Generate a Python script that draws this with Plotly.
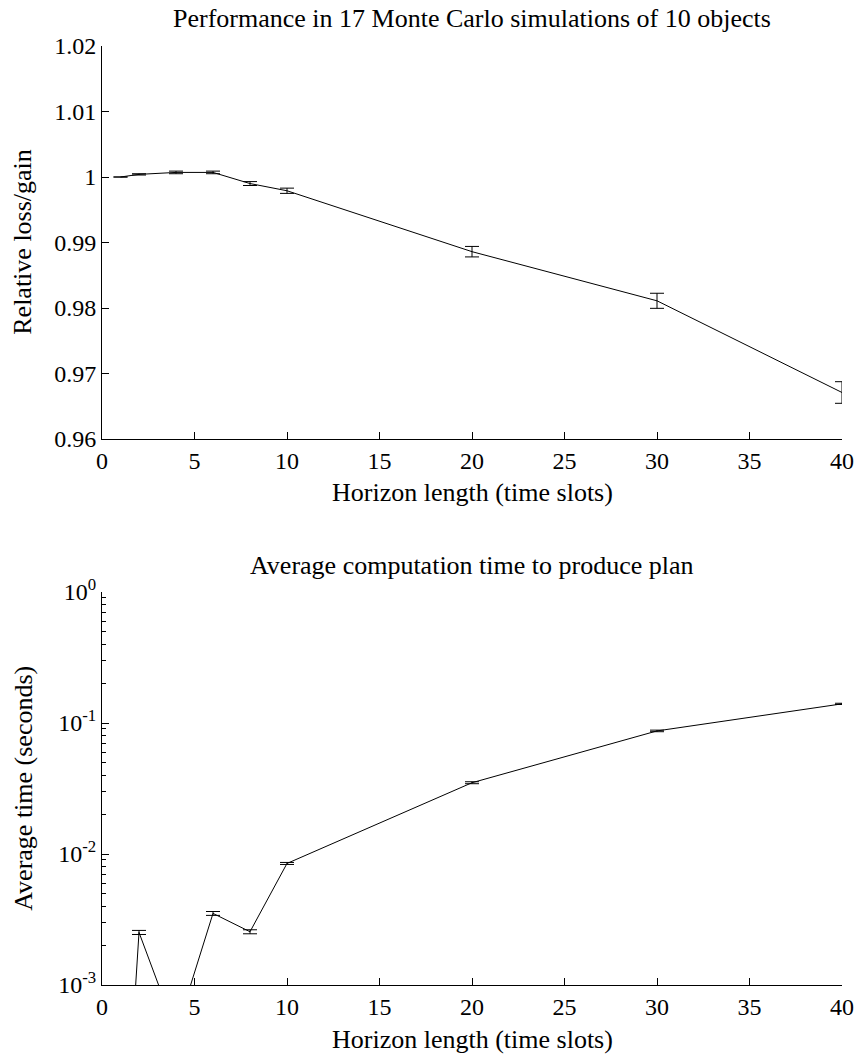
import plotly.graph_objects as go

# Horizon lengths (time slots)
horizon = [1, 2, 4, 6, 8, 10, 20, 30, 40]

# Relative loss/gain and its error bars
rel_gain = [1.0000, 1.0004, 1.0007, 1.0007, 0.9990, 0.9979, 0.9886, 0.9811, 0.9671]
rel_gain_err = [0.0, 0.0001, 0.0002, 0.0002, 0.0003, 0.0004, 0.0008, 0.00115, 0.00165]

# Average computation time (seconds) and its error bars
avg_time = [1.5e-5, 2.52e-3, 4.4e-4, 3.52e-3, 2.55e-3, 8.47e-3, 0.035, 0.087, 0.14]
avg_time_err = [0.0, 0.9e-4, 0.2e-4, 1.2e-4, 0.9e-4, 1.5e-4, 0.6e-3, 1.2e-3, 1.5e-3]

x_ticks = [0, 5, 10, 15, 20, 25, 30, 35, 40]
top_ticks = [0.96, 0.97, 0.98, 0.99, 1.00, 1.01, 1.02]
top_ticktext = ["0.96", "0.97", "0.98", "0.99", "1", "1.01", "1.02"]
log_ticks = [1e-3, 1e-2, 1e-1, 1e0]
log_ticktext = ["10<sup>-3</sup>", "10<sup>-2</sup>", "10<sup>-1</sup>", "10<sup>0</sup>"]

titles = ["Performance in 17 Monte Carlo simulations of 10 objects",
          "Average computation time to produce plan"]
x_label = "Horizon length (time slots)"
y_labels = ["Relative loss/gain", "Average time (seconds)"]

FONT = "Liberation Serif"
TICK_FS = 24
LABEL_FS = 26
W, H = 866, 1055
L, R, T, B = 102, 17, 46, 70
plot_h = H - T - B
panel_h = 393

top_dom = [1 - panel_h / plot_h, 1]
bot_dom = [0, panel_h / plot_h]

fig = go.Figure()

fig.add_trace(go.Scatter(
    x=horizon, y=rel_gain, mode="lines",
    line=dict(color="black", width=1),
    error_y=dict(type="data", array=rel_gain_err, color="black", thickness=1, width=7),
    xaxis="x", yaxis="y", showlegend=False, cliponaxis=True,
))
fig.add_trace(go.Scatter(
    x=horizon, y=avg_time, mode="lines",
    line=dict(color="black", width=1),
    error_y=dict(type="data", array=avg_time_err, color="black", thickness=1, width=7),
    xaxis="x2", yaxis="y2", showlegend=False, cliponaxis=True,
))

minor_log = [m * 10 ** e for e in (-3, -2, -1) for m in range(2, 10)]

axis_common = dict(
    showgrid=False, zeroline=False, showline=True, linecolor="black", linewidth=1,
    ticks="inside", ticklen=7, tickcolor="black", tickwidth=1,
    tickfont=dict(family=FONT, size=TICK_FS, color="black"), mirror=False,
)

fig.update_layout(
    width=W, height=H,
    margin=dict(l=L, r=R, t=T, b=B),
    paper_bgcolor="white", plot_bgcolor="white",
    font=dict(family=FONT, size=TICK_FS, color="black"),
    xaxis=dict(domain=[0, 1], range=[0, 40], tickvals=x_ticks, anchor="y", **axis_common),
    yaxis=dict(domain=top_dom, range=[0.96, 1.02], tickvals=top_ticks,
               ticktext=top_ticktext, anchor="x", **axis_common),
    xaxis2=dict(domain=[0, 1], range=[0, 40], tickvals=x_ticks, anchor="y2", **axis_common),
    yaxis2=dict(domain=bot_dom, type="log", range=[-3, 0], tickvals=log_ticks,
                ticktext=log_ticktext, anchor="x2",
                minor=dict(ticks="inside", ticklen=4, tickcolor="black", tickvals=minor_log),
                **axis_common),
)

def px_to_paper_y(py):
    return (H - B - py) / plot_h

def px_to_paper_x(px):
    return (px - L) / (W - L - R)

ann = []
# panel titles
for text, yc in zip(titles, [19, 565]):
    ann.append(dict(text=text, x=0.5, y=px_to_paper_y(yc), xref="paper", yref="paper",
                    showarrow=False, xanchor="center", yanchor="middle",
                    font=dict(family=FONT, size=LABEL_FS)))
# x labels
for yc in [493, 1039]:
    ann.append(dict(text=x_label, x=0.5, y=px_to_paper_y(yc), xref="paper", yref="paper",
                    showarrow=False, xanchor="center", yanchor="middle",
                    font=dict(family=FONT, size=LABEL_FS)))
# y labels
for text, yc in zip(y_labels, [242, 788]):
    ann.append(dict(text=text, x=px_to_paper_x(22), y=px_to_paper_y(yc), xref="paper", yref="paper",
                    showarrow=False, xanchor="center", yanchor="middle", textangle=-90,
                    font=dict(family=FONT, size=LABEL_FS)))
fig.update_layout(annotations=ann)

fig.write_html("out.html")
